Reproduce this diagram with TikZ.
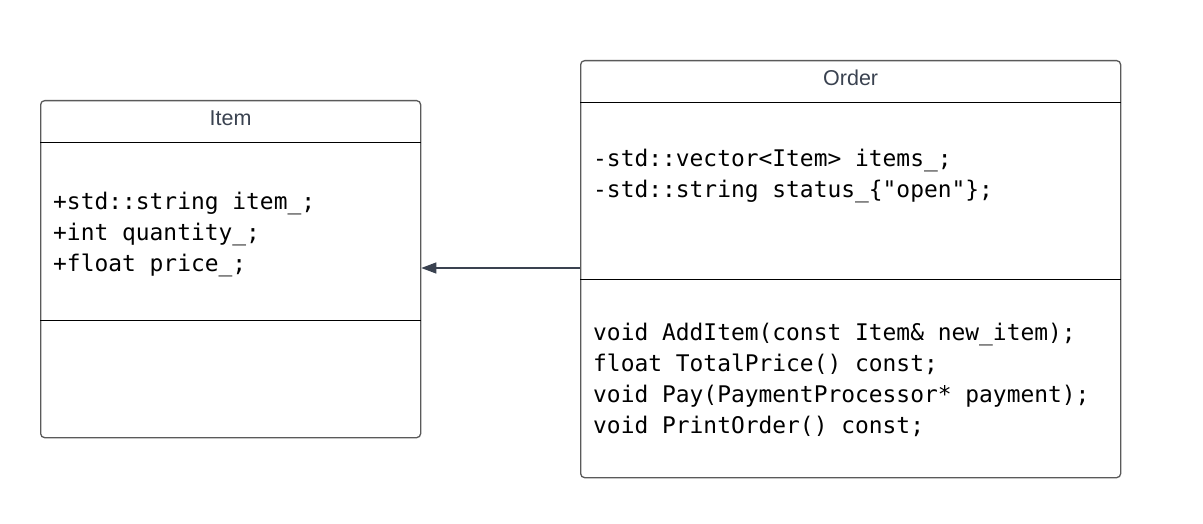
\documentclass[tikz,border=0pt]{standalone}
\usepackage{fontspec}
\setmainfont{Liberation Sans}
\newfontfamily\codefont{DejaVu Sans Mono}
\usetikzlibrary{arrows.meta}

\definecolor{frame}{HTML}{5A5A5A}
\definecolor{slate}{HTML}{3A4250}

\tikzset{
  classbox/.style={draw=frame, line width=1.3pt, rounded corners=4pt,
    anchor=north west, inner sep=0pt},
  divider/.style={draw=black, line width=0.9pt},
  classname/.style={font=\fontsize{21.5}{24}\selectfont, text=slate},
  members/.style={font=\codefont\fontsize{22.9}{31}\selectfont, align=left,
    anchor=west, inner sep=0pt},
  assoc/.style={draw=slate, line width=1.3pt,
    -{Triangle[length=15pt, width=11pt]}}
}

\begin{document}
\begin{tikzpicture}[x=1pt, y=-1pt]
  \useasboundingbox (0,0) rectangle (1203,524);

  \node[classbox, minimum width=380pt, minimum height=337pt] (item) at (40,100) {};
  \node[classbox, minimum width=540pt, minimum height=417pt] (order) at (580,60) {};

  \draw[divider] ([yshift=-42pt]item.north west) -- ([yshift=-42pt]item.north east);
  \draw[divider] ([yshift=-220pt]item.north west) -- ([yshift=-220pt]item.north east);
  \draw[divider] ([yshift=-42pt]order.north west) -- ([yshift=-42pt]order.north east);
  \draw[divider] ([yshift=-219pt]order.north west) -- ([yshift=-219pt]order.north east);

  \node[classname] (itemname) at ([yshift=-18pt]item.north) {Item};
  \node[classname] (ordername) at ([yshift=-18pt]order.north) {Order};

  \node[members] (itemattrs) at (53,235)
    {+std::string item\_;\\+int quantity\_;\\+float price\_;};
  \node[members] (orderattrs) at (593,176)
    {-std::vector<Item> items\_;\\-std::string status\_\{"open"\};};
  \node[members] (ordermethods) at (593,380)
    {void AddItem(const Item\& new\_item);\\float TotalPrice() const;\\
     void Pay(PaymentProcessor* payment);\\void PrintOrder() const;};

  \coordinate (link) at ([yshift=-208pt]order.north west);
  \draw[assoc] (link) -- (link -| item.east);
\end{tikzpicture}
\end{document}
